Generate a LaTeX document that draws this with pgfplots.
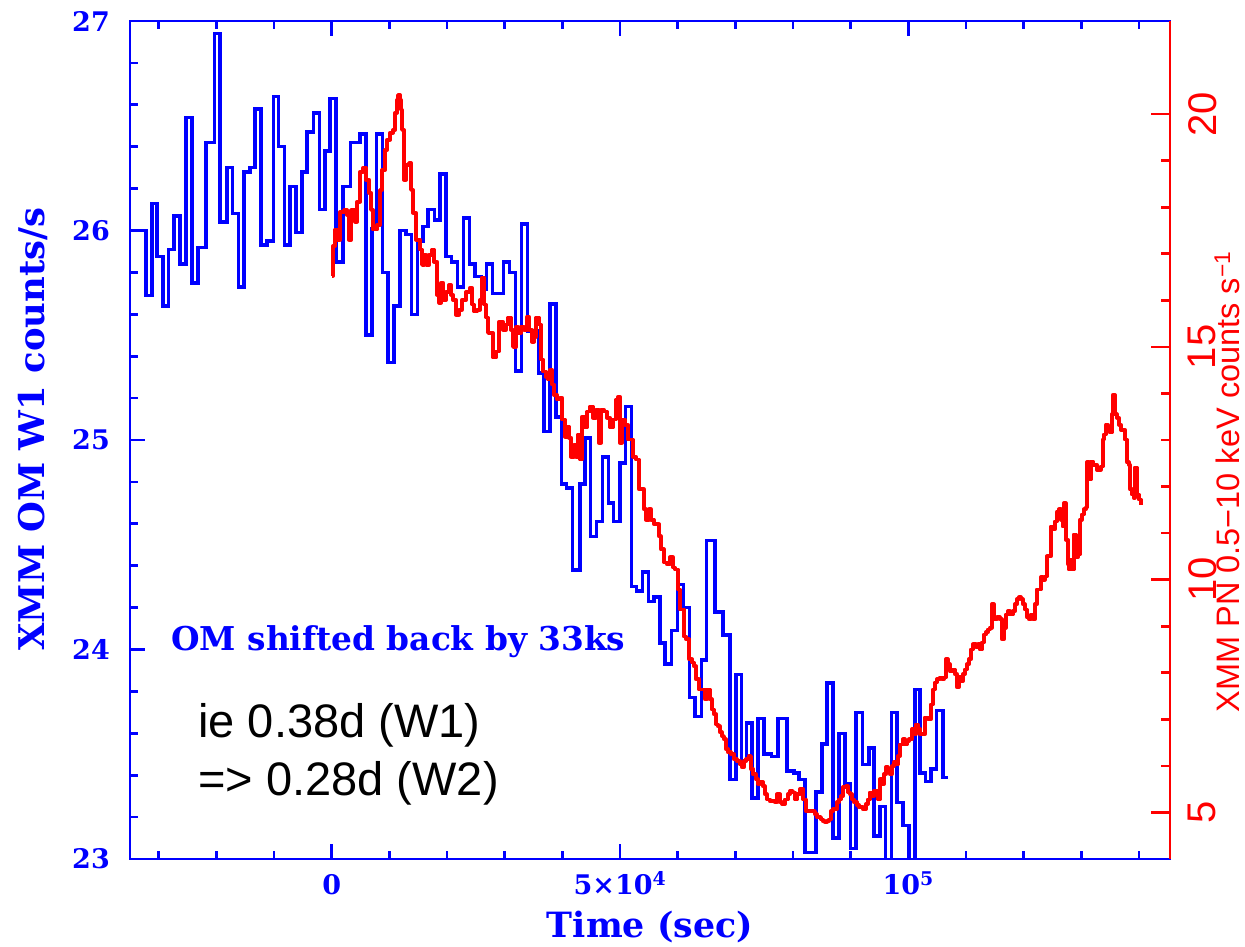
\documentclass[border=0pt]{standalone}
\usepackage{fontspec}
\setmainfont{Liberation Sans}
\newfontfamily\pgserif{DejaVu Serif}
\usepackage{pgfplots}
\usepackage{pgfplotstable}
\pgfplotsset{compat=1.18}

% OM W1 light curve, 1 ks bins, time already shifted back by 33 ks
\pgfplotstableread{
t rate
-35000 26.00
-32250 25.69
-31210 26.13
-30340 25.875
-29300 25.64
-28330 25.91
-27350 26.07
-26310 25.84
-25320 26.54
-24280 25.75
-23240 25.92
-21850 26.42
-20360 26.94
-19370 26.04
-18210 26.30
-17240 26.08
-16200 25.73
-15210 26.28
-14170 26.30
-13300 26.58
-12260 25.93
-11270 25.95
-10130 26.64
-9260 26.40
-8220 25.93
-7230 26.21
-6190 25.99
-5200 26.28
-4340 26.47
-3190 26.56
-2150 26.10
-1160 26.38
-290 26.63
750 25.85
1910 26.21
3290 26.42
4910 26.46
5950 25.50
6990 26.01
7800 26.46
8840 25.80
9760 25.37
10800 25.64
11840 26.00
12880 25.98
13870 25.60
14880 25.95
15830 26.02
16700 26.10
17790 26.05
18780 26.27
19820 25.875
20810 25.85
21850 25.73
22820 26.06
23860 25.84
24850 25.78
26010 25.72
26880 25.84
27850 25.70
29760 25.85
30800 25.80
31910 25.33
32950 26.03
33990 25.52
35820 25.32
36810 25.04
37850 25.65
38890 25.11
39880 24.79
40750 24.77
41790 24.38
43060 24.79
43920 25.01
44910 24.54
45950 24.61
46920 24.92
47960 24.70
48830 24.61
49990 24.89
50980 25.16
52020 24.30
52890 24.28
53860 24.37
54900 24.23
55890 24.25
56930 24.03
57800 23.93
58960 24.09
59930 24.31
60970 24.20
62010 23.77
63000 23.68
64160 23.95
65030 24.52
66460 24.18
67900 24.07
69070 23.38
70110 23.88
71100 23.47
71970 23.65
72930 23.29
73970 23.67
74960 23.50
76300 23.49
77440 23.67
79000 23.42
80160 23.41
81080 23.38
82070 23.03
83980 23.32
85070 23.55
85940 23.84
86980 23.10
88020 23.60
89010 23.36
90000 23.05
90920 23.70
92080 23.45
93170 23.53
94090 23.11
95080 23.25
96060 22.90
97100 23.70
98080 23.27
99120 23.16
100160 22.90
101150 23.81
102010 23.41
103000 23.37
103920 23.43
104910 23.71
106050 23.39
106920 23.39
}\omdata

% PN 0.5-10 keV light curve
\pgfplotstableread{
t rate
0 16.53
230 17.17
570 17.52
920 17.30
1440 17.90
2130 17.94
2650 17.84
3000 17.30
3350 17.94
4040 17.69
4390 18.12
4910 18.76
5430 18.85
5950 18.59
6470 18.31
6810 17.94
7160 17.52
7860 17.62
8380 18.37
8720 18.80
9240 19.23
9590 19.45
10110 19.60
10630 19.66
10980 20.03
11320 20.30
11500 20.41
11840 20.30
12020 20.09
12190 19.66
12540 18.59
12880 18.91
13400 18.95
13750 18.37
14100 17.88
14620 17.30
15140 17.30
15310 17.09
15660 16.76
16010 16.98
16350 16.76
16870 16.98
17390 17.09
17740 16.83
18260 16.12
18610 15.95
18950 16.38
19300 16.01
19820 16.18
20340 16.33
20690 16.12
21030 16.01
21550 15.69
22070 15.80
22590 16.01
23290 16.18
23980 16.27
24330 15.91
24680 15.76
25200 15.80
25720 16.01
26060 16.49
26410 15.91
26760 15.63
27100 15.30
27620 15.30
27970 14.77
28490 14.90
29010 15.54
29360 15.54
29700 15.37
30220 15.48
30570 15.63
31090 15.37
31440 15.00
31960 15.43
32310 15.30
32830 15.43
33350 15.37
33870 15.65
34210 15.37
34730 15.11
35080 15.22
35430 15.63
35950 15.48
36290 14.73
36640 14.47
37160 14.36
37510 14.30
37850 14.51
38200 14.19
38550 13.97
39070 13.87
39590 13.91
39940 13.44
40460 13.07
40800 13.29
41150 13.05
41500 12.64
42020 12.90
42360 12.64
42710 13.12
43060 12.58
43400 13.50
43920 13.27
44270 13.61
44790 13.72
45310 13.48
45830 13.65
46350 12.94
46700 13.65
47220 13.61
47740 13.48
48260 13.27
48780 13.44
49300 13.87
49650 13.93
49990 12.94
50340 13.44
50860 13.33
51380 13.01
51730 13.01
52250 12.64
52770 12.58
53290 11.94
53630 11.94
54150 11.51
54500 11.29
55020 11.51
55370 11.29
55890 11.19
56410 11.19
56760 10.93
57100 10.65
57620 10.37
58140 10.33
58660 10.48
59180 10.26
59530 10.22
60050 9.79
60400 9.36
61040 8.78
61440 8.72
61960 8.29
62480 8.22
62820 8.14
63170 7.86
63690 7.64
64210 7.64
64730 7.43
65080 7.64
65600 7.43
65940 7.21
66290 7.11
66640 6.89
66990 6.85
67330 6.72
67680 6.64
68030 6.57
68370 6.36
68720 6.29
69240 6.25
69760 6.14
70280 6.10
70800 6.03
71150 5.97
71490 6.10
71840 6.14
72360 6.21
72710 5.93
73050 5.82
73570 5.71
73920 5.61
74270 5.65
74790 5.56
75130 5.39
75480 5.28
76000 5.24
76350 5.24
76870 5.22
77220 5.39
77740 5.22
78080 5.18
78600 5.28
79120 5.39
79470 5.46
79990 5.43
80340 5.28
80680 5.39
81200 5.50
81720 5.28
82240 5.03
82940 5.03
83460 5.03
83810 4.96
84150 4.90
84500 4.90
84850 4.85
85190 4.81
85540 4.79
85890 4.81
86230 4.85
86580 5.03
86930 5.07
87270 5.07
87620 5.22
87970 5.28
88310 5.35
88660 5.54
89180 5.56
89530 5.43
89870 5.39
90220 5.28
90570 5.22
91090 5.16
91430 5.11
91780 5.11
92130 5.07
92650 5.18
92990 5.28
93340 5.43
93690 5.35
94030 5.46
94380 5.46
94730 5.28
95080 5.71
95420 5.61
95770 5.82
96120 5.97
96460 5.93
96810 5.82
97160 5.99
97500 6.08
97850 6.03
98200 6.21
98540 6.46
99060 6.57
99410 6.46
99760 6.53
100100 6.57
100620 6.79
100970 6.68
101320 6.89
101660 6.79
102010 6.68
102880 7.04
103400 7.00
103920 7.32
104260 7.64
104610 7.79
104960 7.86
105480 7.90
105830 7.86
106170 7.90
106520 8.29
106870 8.18
107210 8.03
107730 8.07
108080 7.97
108430 7.69
108770 7.92
109120 7.82
109470 7.97
109810 8.07
110160 8.18
110510 8.29
110850 8.50
111200 8.61
111720 8.55
112070 8.61
112410 8.50
112760 8.65
113110 8.82
113450 8.87
113800 8.93
114150 8.97
114490 9.47
114840 9.15
115360 9.19
115880 9.15
116230 8.72
116580 8.97
116920 9.25
117270 9.32
117620 9.25
118140 9.32
118480 9.47
118830 9.58
119180 9.62
119520 9.58
119870 9.47
120220 9.36
120560 9.19
120910 9.15
121260 9.25
121600 9.15
121950 9.47
122300 9.79
122640 9.79
122990 10.05
123340 10.00
123680 10.07
124030 10.50
124380 10.50
124720 11.14
125070 11.08
125420 11.25
125760 11.46
126110 11.51
126460 11.29
126800 11.14
126980 11.64
127320 10.86
127670 10.33
127840 10.22
128190 10.43
128540 10.22
128710 10.97
129060 10.48
129400 10.54
129750 11.29
130100 11.40
130450 11.51
130790 11.55
130970 12.52
131310 12.15
131660 12.54
132010 12.47
132350 12.47
132700 12.36
133050 12.36
133390 12.43
133740 13.01
133910 13.12
134260 13.33
134610 13.22
134950 13.16
135300 13.55
135470 13.97
135820 13.55
136170 13.48
136510 13.33
136860 13.22
137210 13.22
137550 13.01
137900 12.52
138250 12.47
138420 11.94
138770 11.83
139110 11.76
139290 12.41
139630 11.83
139980 11.72
140330 11.61
}\pndata

\begin{document}
\begin{tikzpicture}
% left axis: OM W1 count rate
\begin{axis}[
  scale only axis, width=1040pt, height=838pt,
  xmin=-35000, xmax=145400, ymin=23, ymax=27,
  axis line style={blue, line width=2.7pt},
  tick style={blue, line width=2.7pt},
  tick align=inside,
  major tick length=15pt, minor tick length=8pt,
  xtick pos=both, ytick pos=left,
  scaled x ticks=false,
  xtick={0,50000,100000},
  xticklabels={0, 5×10\textsuperscript{4}, 10\textsuperscript{5}},
  minor xtick={-30000,-20000,...,140000},
  ytick={23,24,25,26,27},
  minor y tick num=4,
  /pgf/number format/assume math mode=true,
  ticklabel style={blue, font=\pgserif\bfseries\fontsize{27}{30}\selectfont},
  xticklabel style={anchor=base, inner sep=0pt, yshift=-36pt},
  yticklabel style={anchor=east, inner sep=0pt},
  yticklabel shift=20pt,
  xlabel={Time (sec)},
  xlabel style={at={(axis description cs:0.5,0)}, anchor=base, yshift=-79pt,
    blue, font=\pgserif\bfseries\fontsize{34.8}{38}\selectfont},
  ylabel={XMM OM W1 counts/s},
  ylabel style={at={(axis description cs:0,0.513)}, anchor=center, yshift=97pt,
    blue, font=\pgserif\bfseries\fontsize{35.4}{38}\selectfont},
]
\addplot[const plot, blue, line width=3.5pt] table[x=t, y=rate] {\omdata};
\node[anchor=base west, inner sep=0pt, text=blue,
  font=\pgserif\bfseries\fontsize{32.8}{36}\selectfont]
  at (axis cs:-27870,23.993) {OM shifted back by 33ks};
\node[anchor=base west, inner sep=0pt, font=\fontsize{47}{52}\selectfont]
  at (axis cs:-23180,23.578) {ie 0.38d (W1)};
\node[anchor=base west, inner sep=0pt, font=\fontsize{47}{52}\selectfont]
  at (axis cs:-23180,23.305) {=> 0.28d (W2)};
\end{axis}

% right axis: PN count rate
\begin{axis}[
  scale only axis, width=1040pt, height=838pt,
  xmin=-35000, xmax=145400, ymin=4, ymax=22,
  axis x line=none, axis y line*=right,
  axis line style={red, line width=2.7pt},
  tick style={red, line width=2.7pt},
  tick align=inside,
  major tick length=19pt, minor tick length=9pt,
  ytick={5,10,15,20}, minor y tick num=4,
  /pgf/number format/assume math mode=true,
  yticklabel style={red, font=\fontsize{40}{44}\selectfont, rotate=90, anchor=north, inner sep=0pt},
  yticklabel shift=18pt,
  ylabel={XMM PN 0.5−10 keV counts s\textsuperscript{−1}},
  ylabel style={at={(axis description cs:1,0.45)}, anchor=center, yshift=-57pt,
    red, font=\fontsize{32.5}{36}\selectfont},
]
\addplot[const plot, red, line width=3.8pt, line join=round] table[x=t, y=rate] {\pndata};
\end{axis}
\pgfresetboundingbox
\path (-130pt,-88pt) rectangle (1115pt,859pt);
\end{tikzpicture}
\end{document}
